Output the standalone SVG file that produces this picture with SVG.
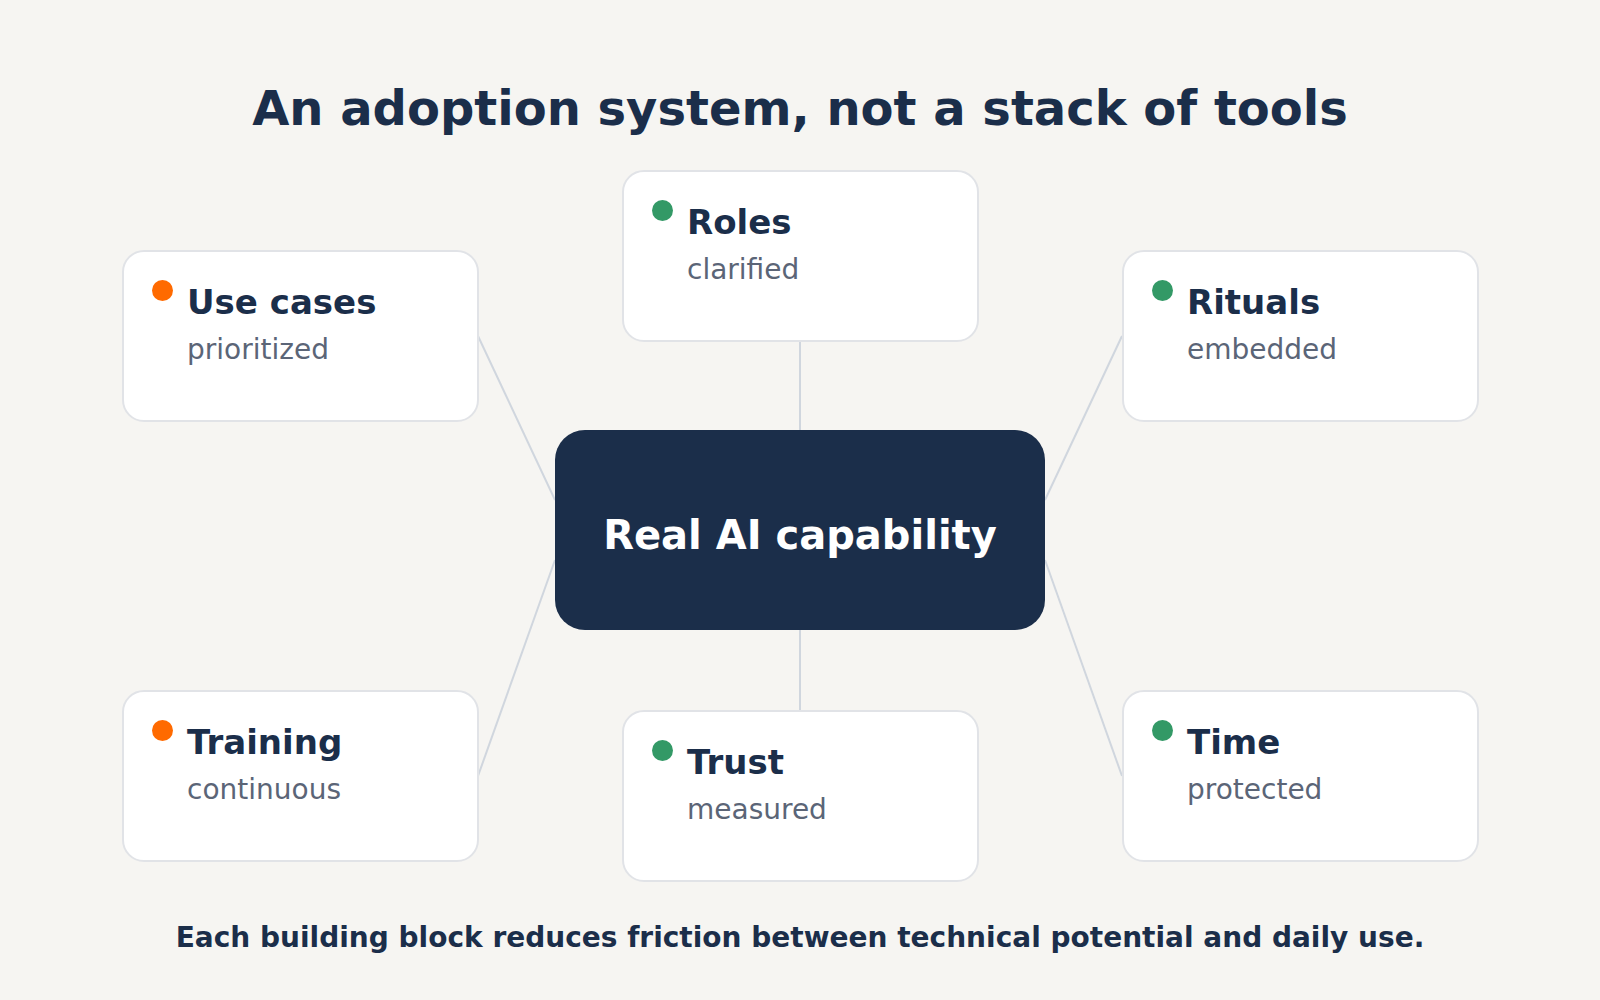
<svg xmlns="http://www.w3.org/2000/svg" width="1600" height="1000" viewBox="0 0 1600 1000">
<style>
  .bg { fill: #f6f5f2; }
  .card { fill: #ffffff; stroke: #e1e3e7; stroke-width: 2; }
  .core { fill: #1b2e4a; }
  .title { font-family: "DejaVu Sans", sans-serif; font-weight: bold; font-size: 48px; fill: #1b2e4a; }
  .foot { font-family: "DejaVu Sans", sans-serif; font-weight: bold; font-size: 28px; fill: #1b2e4a; }
  .core-text { font-family: "DejaVu Sans", sans-serif; font-weight: bold; font-size: 40px; fill: #ffffff; }
  .head { font-family: "DejaVu Sans", sans-serif; font-weight: bold; font-size: 34px; fill: #1b2e4a; }
  .sub { font-family: "DejaVu Sans", sans-serif; font-size: 28px; fill: #5b6577; }
  .dot-o { fill: #ff6a00; }
  .dot-g { fill: #339966; }
  .conn { stroke: #d0d6de; stroke-width: 2; fill: none; }
</style>
<rect class="bg" x="0" y="0" width="1600" height="1000"/>
<text class="title" x="800" y="125" text-anchor="middle">An adoption system, not a stack of tools</text>

<g id="connectors">
  <line class="conn" x1="478" y1="336" x2="555" y2="500"/>
  <line class="conn" x1="800" y1="341" x2="800" y2="430"/>
  <line class="conn" x1="1122" y1="336" x2="1045" y2="500"/>
  <line class="conn" x1="478" y1="776" x2="555" y2="560"/>
  <line class="conn" x1="800" y1="630" x2="800" y2="711"/>
  <line class="conn" x1="1122" y1="776" x2="1045" y2="560"/>
</g>

<g id="core">
  <rect class="core" x="555" y="430" width="490" height="200" rx="30"/>
  <text class="core-text" x="800" y="549" text-anchor="middle">Real AI capability</text>
</g>

<g id="use-cases">
  <rect class="card" x="123" y="251" width="355" height="170" rx="21"/>
  <circle class="dot-o" cx="162.5" cy="290.5" r="10.5"/>
  <text class="head" x="187" y="314">Use cases</text>
  <text class="sub" x="187" y="359">prioritized</text>
</g>

<g id="roles">
  <rect class="card" x="623" y="171" width="355" height="170" rx="21"/>
  <circle class="dot-g" cx="662.5" cy="210.5" r="10.5"/>
  <text class="head" x="687" y="234">Roles</text>
  <text class="sub" x="687" y="279">clarified</text>
</g>

<g id="rituals">
  <rect class="card" x="1123" y="251" width="355" height="170" rx="21"/>
  <circle class="dot-g" cx="1162.5" cy="290.5" r="10.5"/>
  <text class="head" x="1187" y="314">Rituals</text>
  <text class="sub" x="1187" y="359">embedded</text>
</g>

<g id="training">
  <rect class="card" x="123" y="691" width="355" height="170" rx="21"/>
  <circle class="dot-o" cx="162.5" cy="730.5" r="10.5"/>
  <text class="head" x="187" y="754">Training</text>
  <text class="sub" x="187" y="799">continuous</text>
</g>

<g id="trust">
  <rect class="card" x="623" y="711" width="355" height="170" rx="21"/>
  <circle class="dot-g" cx="662.5" cy="750.5" r="10.5"/>
  <text class="head" x="687" y="774">Trust</text>
  <text class="sub" x="687" y="819">measured</text>
</g>

<g id="time">
  <rect class="card" x="1123" y="691" width="355" height="170" rx="21"/>
  <circle class="dot-g" cx="1162.5" cy="730.5" r="10.5"/>
  <text class="head" x="1187" y="754">Time</text>
  <text class="sub" x="1187" y="799">protected</text>
</g>

<text class="foot" x="800" y="947" text-anchor="middle">Each building block reduces friction between technical potential and daily use.</text>
</svg>
